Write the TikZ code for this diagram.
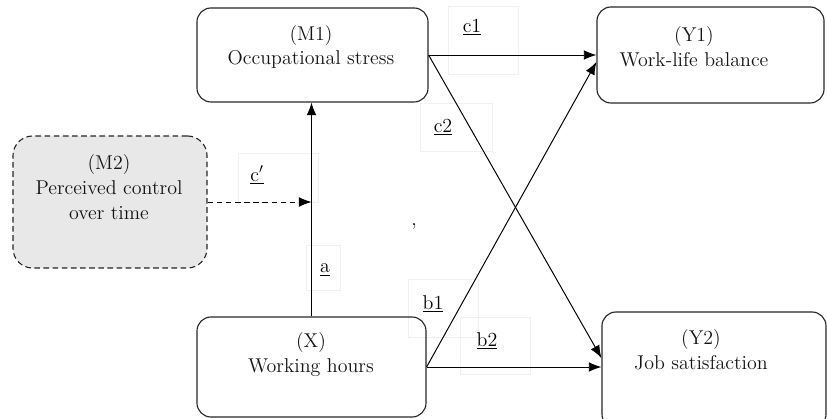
\documentclass[tikz,border=0pt]{standalone}
\usetikzlibrary{arrows.meta}

\begin{document}
\begin{tikzpicture}[x=0.025cm, y=-0.025cm, font=\fontsize{14.2}{17.7}\selectfont,
  box/.style={draw=black!85, line width=0.8pt, rounded corners=10pt, inner sep=0pt},
  txt/.style={align=center, text=black!92, inner sep=0pt},
  lblbox/.style={draw=black!6, line width=0.4pt, inner sep=0pt},
  lbl/.style={inner sep=1pt},
  arr/.style={line width=0.7pt, -{Latex[length=9pt,width=7pt]}}]
  \useasboundingbox (0,0) rectangle (827,419);

  % faint frames behind the path labels
  \foreach \n/\x/\y/\w/\h in {cpb/278/177.5/2/1.225, ab/323/267.5/0.85/1.125,
      c1b/483/40/1.75/1.7, c2b/456/127/1.8/1.2, b1b/443/308/1.75/1.45, b2b/495/345.5/1.75/1.425}{
    \node[lblbox, minimum width=\w cm, minimum height=\h cm] (\n) at (\x,\y) {};
  }

  % variables
  \node[box, minimum width=5.775cm, minimum height=2.35cm] (m1) at (312.5,55) {};
  \node[box, fill=black!9, dash pattern=on 4pt off 2.5pt, rounded corners=14pt, minimum width=4.85cm, minimum height=3.3cm] (m2) at (110,202) {};
  \node[box, minimum width=5.725cm, minimum height=2.5cm] (x) at (311.5,367) {};
  \node[box, minimum width=5.675cm, minimum height=2.4cm] (y1) at (710.5,55) {};
  \node[box, minimum width=5.6cm, minimum height=2.9cm] (y2) at (714,370) {};

  \node[txt] (m1t) at (311,47) {(M1)\\Occupational stress};
  \node[txt] (m2t) at (109,187) {(M2)\\Perceived control\\over time};
  \node[txt] (xt) at (311,355) {(X)\\Working hours};
  \node[txt] (y1t) at (694,47) {(Y1)\\Work-life balance};
  \node[txt] (y2t) at (701,350) {(Y2)\\Job satisfaction};

  % paths
  \draw[arr] (x.north) -- (x.north |- m1.south);
  \draw[arr, dash pattern=on 4pt off 2.5pt] (m2.east) -- (m2.east -| x.north);
  \draw[arr] (m1.east) -- (y1.west);
  \draw[arr] (m1.east) -- ([yshift=0.3cm]y2.west);
  \draw[arr] (x.east) -- ([yshift=-0.175cm]y1.west);
  \draw[arr] (x.east) -- (x.east -| y2.west);

  \node[lbl] (cp) at (257,175) {\underline{c$'$}};
  \node[lbl] (a) at (325,270) {\underline{a}};
  \node[lbl] (c1) at (472,27) {\underline{c1}};
  \node[lbl] (c2) at (443,127) {\underline{c2}};
  \node[lbl] (b1) at (433,304) {\underline{b1}};
  \node[lbl] (b2) at (487,341) {\underline{b2}};
  \node[lbl] (comma) at (414,226) {,};
\end{tikzpicture}
\end{document}
